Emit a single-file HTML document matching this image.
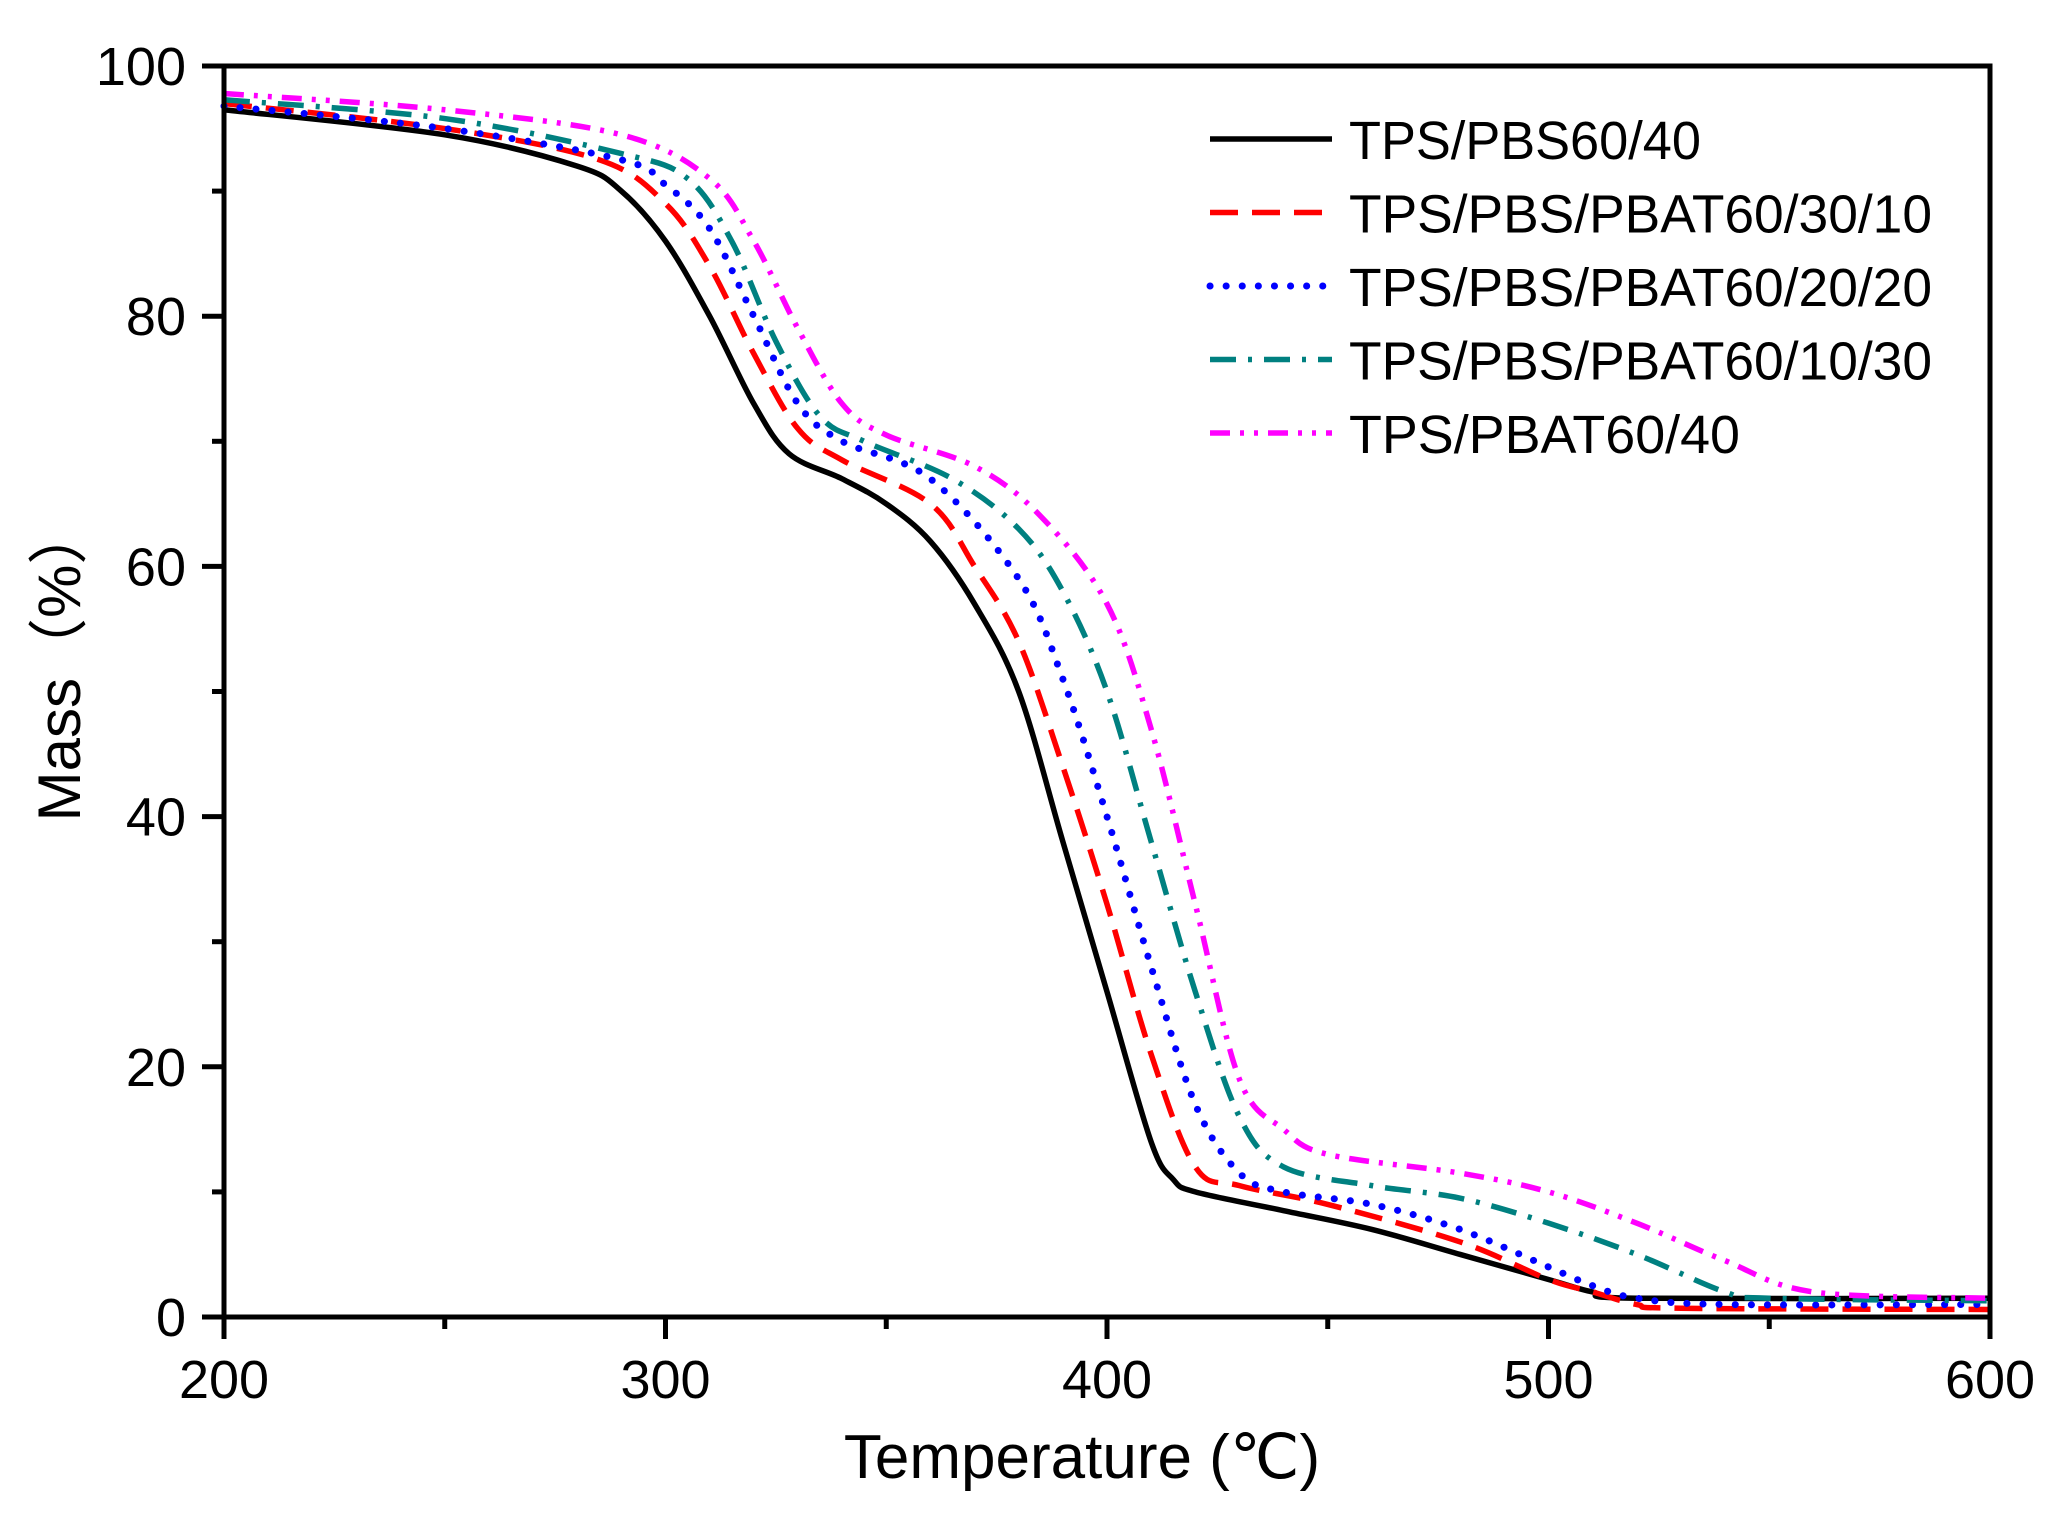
<!DOCTYPE html>
<html><head><meta charset="utf-8"><style>
html,body{margin:0;padding:0;background:#fff;}
svg{display:block;}
text{font-family:"Liberation Sans",Arial,sans-serif;fill:#000;}
</style></head><body>
<svg id="s" width="2059" height="1522" viewBox="0 0 2059 1522" xmlns="http://www.w3.org/2000/svg">
<g id="curves" fill="none" stroke-width="5.5"></g>
<g stroke="#000" stroke-width="5" fill="none" id="axes">
<rect x="224" y="66" width="1766" height="1251"/>
</g>
<g font-size="54" id="labels"></g>
<text x="1082" y="1478" font-size="62" text-anchor="middle">Temperature (℃)</text>
<text transform="translate(80,663) rotate(-90)" font-size="60" text-anchor="middle">Mass（%）</text>
<g id="legend" font-size="54"></g>
</svg>
<script>
const X=t=>224+(t-200)*1766/400, Y=m=>1317-m*12.51;
const ns="http://www.w3.org/2000/svg";
function el(tag,attrs,parent,txt){const e=document.createElementNS(ns,tag);for(const k in attrs)e.setAttribute(k,attrs[k]);if(txt!==undefined)e.textContent=txt;parent.appendChild(e);return e;}
const axes=document.getElementById('axes'),labels=document.getElementById('labels');
for(let t=200;t<=600;t+=50){const maj=t%100==0;el('line',{x1:X(t),y1:1317,x2:X(t),y2:1317+(maj?22:12)},axes);
 if(maj)el('text',{x:X(t),y:1398,'text-anchor':'middle'},labels,t);}
for(let m=0;m<=100;m+=10){const maj=m%20==0;el('line',{x1:224,y1:Y(m),x2:224-(maj?22:12),y2:Y(m)},axes);
 if(maj)el('text',{x:186,y:Y(m)+19,'text-anchor':'end'},labels,m);}
const data=[
['#000','',[[200,96.5],[250,94.5],[280,92],[290,90],[300,86],[310,80],[320,73],[328,69],[340,67],[350,65],[360,62],[370,57],[380,50],[390,38],[400,26],[410,14],[415,11],[420,10],[440,8.5],[460,7],[480,5],[500,3],[510,2],[520,1.5],[600,1.5]]],
['#f00','28 14',[[200,97],[250,95],[285,92.5],[300,89],[310,84],[320,77],[330,71],[340,68.5],[360,65],[370,60],[380,54],[390,44],[400,33],[410,21],[420,12],[430,10.5],[450,9],[480,6],[500,3],[510,2],[520,1],[530,0.7],[600,0.6]]],
['#00f','0.1 16',[[200,96.8],[250,95],[290,92.5],[300,90.5],[310,87],[320,80],[330,73],[340,70],[360,67],[380,59],[390,51],[400,40],[410,28],[420,17],[430,11.5],[440,10],[460,9],[480,7],[500,4],[510,2.5],[520,1.5],[540,1],[600,1]]],
['#008080','26 12 4 12',[[200,97.3],[250,95.8],[290,93],[305,91],[315,86],[325,78],[335,72],[345,70],[365,67],[380,63],[390,58],[400,50],[410,38],[420,26],[430,16],[440,12],[460,10.5],[480,9.5],[500,7.5],[520,5],[540,2],[550,1.5],[600,1.3]]],
['#f0f','20 10 4 10 4 10',[[200,97.8],[250,96.5],[290,94.5],[310,91],[320,86],[330,79],[340,73],[350,70.5],[370,68],[385,64],[400,57],[410,47],[420,33],[430,19],[440,15],[450,13],[480,11.5],[500,10],[520,7.5],[540,4.5],[560,2],[600,1.5]]]];
const cg=document.getElementById('curves');
function path(pts){const p=pts.map(([t,m])=>[X(t),Y(m)]);let d=`M${p[0][0]},${p[0][1]}`;
 for(let i=0;i<p.length-1;i++){const p0=p[i-1]||p[i],p1=p[i],p2=p[i+1],p3=p[i+2]||p2;
  d+=`C${p1[0]+(p2[0]-p0[0])/6},${p1[1]+(p2[1]-p0[1])/6} ${p2[0]-(p3[0]-p1[0])/6},${p2[1]-(p3[1]-p1[1])/6} ${p2[0]},${p2[1]}`;}return d;}
data.forEach(([c,da,pts])=>{const a={d:path(pts),stroke:c};if(da){a['stroke-dasharray']=da;}if(c=='#00f'){a['stroke-linecap']='round';a['stroke-width']=7;}el('path',a,cg);});
const names=['TPS/PBS60/40','TPS/PBS/PBAT60/30/10','TPS/PBS/PBAT60/20/20','TPS/PBS/PBAT60/10/30','TPS/PBAT60/40'];
const widths=[352,583,583,583,391];
const lg=document.getElementById('legend');
names.forEach((n,i)=>{const y=139+i*73.5;const a={x1:1210,y1:y,x2:1332,y2:y,stroke:data[i][0],'stroke-width':data[i][0]=='#00f'?7:5.5};
 if(data[i][1])a['stroke-dasharray']=data[i][1];if(data[i][0]=='#00f')a['stroke-linecap']='round';el('line',a,lg);
 el('text',{x:1349,y:y+20,textLength:widths[i],lengthAdjust:'spacingAndGlyphs'},lg,n);});
</script>
</body></html>
